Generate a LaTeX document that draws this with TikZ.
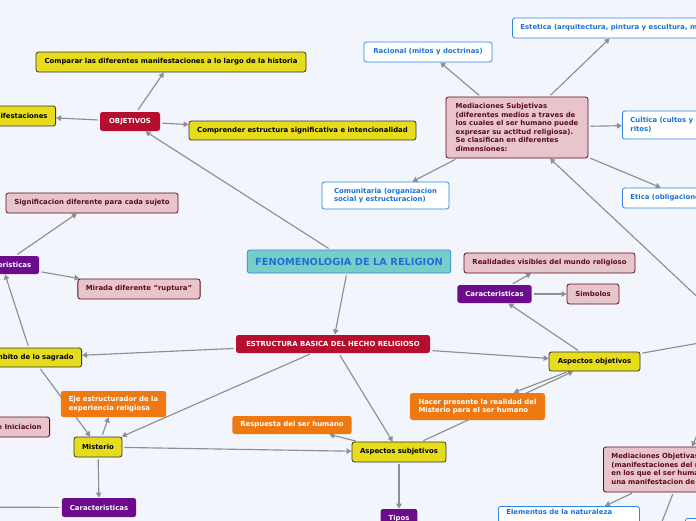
\documentclass[tikz,border=0pt]{standalone}
\usepackage{fontspec}
\setmainfont{DejaVu Sans}
\usetikzlibrary{arrows.meta,backgrounds}
\definecolor{fondo}{HTML}{F3F5FD}
\definecolor{amarillo}{HTML}{E6DC1C}
\definecolor{rojo}{HTML}{B50E2E}
\definecolor{morado}{HTML}{6C0B8B}
\definecolor{rosa}{HTML}{E7C5CB}
\definecolor{granate}{HTML}{5E0B1E}
\definecolor{naranja}{HTML}{EE7912}
\definecolor{azul}{HTML}{2D86E6}
\definecolor{azultxt}{HTML}{1C72D4}
\definecolor{turquesa}{HTML}{78CEC6}
\definecolor{linea}{HTML}{8E8F94}
\tikzset{
  caja/.style={rounded corners=2.5pt,font=\fontsize{6.9}{8.5}\selectfont\bfseries,
    inner xsep=8pt,inner ysep=3pt,line width=0.8pt,align=left},
  cajaamarilla/.style={caja,fill=amarillo,draw=black!80,text=black},
  cajaroja/.style={caja,fill=rojo,text=white},
  cajamorada/.style={caja,fill=morado,text=white},
  cajarosa/.style={caja,fill=rosa,draw=granate,text=granate},
  cajanaranja/.style={caja,fill=naranja,text=white},
  cajaazul/.style={caja,fill=white,draw=azul,text=azultxt},
  cajacentral/.style={caja,fill=turquesa,draw=azul,text=azultxt,font=\fontsize{9.8}{11}\selectfont\bfseries},
  conn/.style={draw=linea,line width=1.15pt,shorten <=2pt},
  flecha/.style={conn,-{Triangle[length=5pt,width=5.5pt]}}
}
\begin{document}
\begin{tikzpicture}[x=1pt,y=-1pt]
\useasboundingbox (0,0) rectangle (696,520);
% nodos
\node[cajacentral,minimum width=202pt,minimum height=23pt] (fen) at (349,261.5) {FENOMENOLOGIA DE LA RELIGION};
\node[cajaroja,minimum width=60pt,minimum height=19pt] (objetivos) at (130,121.5) {OBJETIVOS};
\node[cajaamarilla,minimum width=270pt,minimum height=20pt] (comparar) at (171,62) {Comparar las diferentes manifestaciones a lo largo de la historia};
\node[cajaamarilla,minimum height=20pt,anchor=east] (manif) at (56,116) {Manifestaciones};
\node[cajaamarilla,minimum width=227pt,minimum height=19pt] (comprender) at (302.5,130.5) {Comprender estructura significativa e intencionalidad};
\node[cajaazul,minimum width=128pt,minimum height=20pt] (racional) at (428,52) {Racional (mitos y doctrinas)};
\node[cajaazul,minimum height=20pt,anchor=west] (estetica) at (512,28) {Estetica (arquitectura, pintura y escultura, musica)};
\node[cajarosa,minimum width=142pt,minimum height=61pt] (medsubj) at (517,127.5) {Mediaciones Subjetivas\\(diferentes medios a traves de\\los cuales el ser humano puede\\expresar su actitud religiosa).\\Se clasifican en diferentes\\dimensiones:};
\node[cajaazul,minimum height=28pt,anchor=west] (cultica) at (622,125) {Cultica (cultos y\\ritos)};
\node[cajaazul,minimum height=20pt,anchor=west] (etica) at (622,198) {Etica (obligaciones morales)};
\node[cajaazul,minimum width=127pt,minimum height=27pt] (comunitaria) at (385.5,195.5) {Comunitaria (organizacion\\social y estructuracion)};
\node[cajarosa,minimum width=172pt,minimum height=20pt] (signif) at (92,203) {Significacion diferente para cada sujeto};
\node[cajamorada,minimum width=73pt,minimum height=18pt] (caracA) at (2,265) {Caracteristicas};
\node[cajarosa,minimum width=122pt,minimum height=20pt] (mirada) at (139,289) {Mirada diferente "ruptura"};
\node[cajaroja,minimum width=194pt,minimum height=18pt] (estructura) at (333,344) {ESTRUCTURA BASICA DEL HECHO RELIGIOSO};
\node[cajarosa,minimum width=171pt,minimum height=20pt] (realidades) at (549.5,263) {Realidades visibles del mundo religioso};
\node[cajamorada,minimum width=73pt,minimum height=18pt] (caracB) at (494.5,294) {Caracteristicas};
\node[cajarosa,minimum width=52pt,minimum height=20pt] (simbolos) at (593,294) {Simbolos};
\node[cajaamarilla,minimum width=91pt,minimum height=19pt] (aspobj) at (594.5,361.5) {Aspectos objetivos};
\node[cajaamarilla,minimum height=19pt,anchor=east] (ambito) at (82,357.5) {Ambito de lo sagrado};
\node[cajanaranja,minimum width=105pt,minimum height=26pt] (eje) at (113.5,404) {Eje estructurador de la\\experiencia religiosa};
\node[cajarosa,minimum height=20pt,anchor=east] (iniciacion) at (50,427) {Ritos de Iniciacion};
\node[cajaamarilla,minimum width=48pt,minimum height=20pt] (misterio) at (98,447) {Misterio};
\node[cajanaranja,minimum width=118pt,minimum height=18pt] (respuesta) at (292,425) {Respuesta del ser humano};
\node[cajamorada,minimum width=74pt,minimum height=19pt] (caracC) at (99,507.5) {Caracteristicas};
\node[cajanaranja,minimum width=135pt,minimum height=27pt] (hacer) at (477.5,406.5) {Hacer presente la realidad del\\Misterio para el ser humano};
\node[cajaamarilla,minimum width=94pt,minimum height=20pt] (aspsubj) at (399,452) {Aspectos subjetivos};
\node[cajamorada,minimum width=36pt,minimum height=20pt] (tipos) at (399,519) {Tipos};
\node[cajarosa,text width=142pt,minimum height=45pt,anchor=west] (medobj) at (603,469.5) {Mediaciones Objetivas\\(manifestaciones del mundo\\en los que el ser humano\\una manifestacion de lo sagrado)};
\node[cajaazul,text width=125pt,text depth=22pt,anchor=north west] (elementos) at (498,506) {Elementos de la naturaleza};
\node[cajaazul,minimum width=40pt,minimum height=20pt,anchor=north west] (otra) at (685,518) {};
\coordinate (medhub) at (739,336);
\coordinate (izq) at (-60,507);
\coordinate (abajo) at (647,560);
% conectores
\begin{scope}[on background layer]
\fill[fondo] (-100,-100) rectangle (800,620);
\draw[flecha] (fen) -- (objetivos);
\draw[flecha] (objetivos) -- (comparar);
\draw[flecha] (objetivos) -- (manif);
\draw[flecha] (objetivos) -- (comprender);
\draw[flecha] (fen) -- (estructura);
\foreach \n in {racional,estetica,cultica,etica,comunitaria}
  \draw[flecha] (medsubj) -- (\n);
\draw[flecha] (medhub) -- (medsubj);
\draw[flecha] (aspobj) -- (medhub);
\draw[flecha] (medhub) -- (medobj);
\draw[flecha] (medobj) -- (elementos);
\draw[flecha] (medobj) -- (abajo);
\draw[flecha] (caracA) -- (signif);
\draw[flecha] (caracA) -- (mirada);
\draw[flecha] (ambito) -- (caracA);
\draw[flecha] (ambito) -- (misterio);
\draw[flecha] (estructura) -- (ambito);
\draw[flecha] (estructura) -- (misterio);
\draw[flecha] (misterio) -- (eje);
\draw[flecha] (misterio) -- (aspsubj);
\draw[flecha] (misterio) -- (caracC);
\draw[flecha] (caracC) -- (izq);
\draw[flecha] (estructura) -- (aspsubj);
\draw[flecha] (aspsubj) -- (respuesta);
\draw[flecha] (aspsubj) -- (aspobj);
\draw[flecha] (aspobj) -- (hacer);
\draw[flecha] (estructura) -- (aspobj);
\draw[flecha] (aspobj) -- (caracB);
\draw[flecha] (caracB) -- (realidades);
\draw[flecha] (caracB) -- (simbolos);
\draw[flecha] (aspsubj) -- (tipos);
\end{scope}
\end{tikzpicture}
\end{document}
